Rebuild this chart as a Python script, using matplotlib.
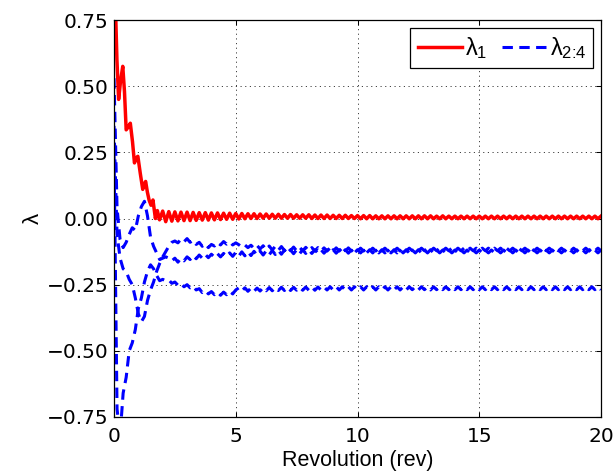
import numpy as np
import matplotlib
matplotlib.use("Agg")
import matplotlib.pyplot as plt

plt.rcParams['font.family'] = ['Liberation Sans', 'DejaVu Sans']
plt.rcParams['mathtext.fontset'] = 'custom'
plt.rcParams['mathtext.rm'] = 'Liberation Sans'
plt.rcParams['mathtext.it'] = 'Liberation Sans'
plt.rcParams['mathtext.bf'] = 'Liberation Sans:bold'

# ---------------- data ----------------
# lambda_1, early transient (irregular sampling, rev)
red_early_rev = [0.0, 0.06, 0.12, 0.19, 0.27, 0.36, 0.43, 0.50, 0.58, 0.67, 0.76, 0.84,
                 0.92, 0.98, 1.08, 1.18, 1.24, 1.30, 1.37, 1.44, 1.52, 1.60, 1.70, 1.78, 1.87]
red_early_val = [0.95, 0.80, 0.60, 0.45, 0.52, 0.575, 0.48, 0.335, 0.345, 0.36, 0.29, 0.21,
                 0.23, 0.235, 0.17, 0.11, 0.13, 0.14, 0.10, 0.07, 0.05, 0.07, 0.0, 0.03, -0.005]
# lambda_1 from 2 to 20 rev, every 0.125 rev
red_late_val = [
    0.028, -0.012, 0.026, -0.010, 0.025, -0.009, 0.024, -0.008,
    0.024, -0.008, 0.023, -0.007, 0.022, -0.006, 0.022, -0.006,
    0.021, -0.005, 0.021, -0.004, 0.020, -0.003, 0.020, -0.003,
    0.019, -0.002, 0.019, -0.001, 0.018, 0.000, 0.018, 0.000,
    0.017, 0.001, 0.017, 0.001, 0.016, 0.001, 0.016, 0.001,
    0.015, 0.001, 0.015, 0.001, 0.014, 0.001, 0.014, 0.001,
    0.014, 0.000, 0.013, 0.000, 0.013, 0.000, 0.013, 0.000,
    0.012, 0.000, 0.012, 0.000, 0.012, 0.000, 0.011, 0.000,
    0.011, -0.001, 0.011, -0.001, 0.011, -0.001, 0.010, -0.001,
    0.010, -0.001, 0.010, -0.001, 0.010, -0.001, 0.010, -0.001,
    0.010, -0.001, 0.010, -0.001, 0.010, -0.001, 0.010, -0.001,
    0.010, -0.001, 0.009, -0.001, 0.010, -0.001, 0.009, -0.001,
    0.009, -0.001, 0.009, -0.001, 0.009, -0.001, 0.009, -0.001,
    0.009, -0.001, 0.009, -0.001, 0.009, -0.001, 0.009, -0.001,
    0.009, -0.001, 0.009, -0.001, 0.009, -0.001, 0.009, -0.001,
    0.009, -0.001, 0.009, -0.001, 0.009, -0.001, 0.009, -0.001,
    0.009, -0.001, 0.009, -0.001, 0.009, -0.001, 0.009, -0.001,
    0.009, -0.001, 0.009, -0.001, 0.009, -0.001, 0.009, -0.001,
    0.009]

# lambda_2..4 on a 0.125 rev grid from 0 to 20
blue_a_val = [0.53,
    0.04, -0.08, -0.11, -0.09, -0.06, -0.035, -0.045, 0.01,
    0.045, 0.065, 0.01, -0.07, -0.105, -0.13, -0.155, -0.15,
    -0.145, -0.15, -0.16, -0.15, -0.165, -0.15, -0.16, -0.145,
    -0.155, -0.14, -0.152, -0.138, -0.15, -0.136, -0.148, -0.135,
    -0.146, -0.133, -0.145, -0.132, -0.144, -0.130, -0.143, -0.128,
    -0.142, -0.126, -0.141, -0.125, -0.140, -0.124, -0.139, -0.123,
    -0.138, -0.122, -0.137, -0.121, -0.136, -0.120, -0.135, -0.119,
    -0.134, -0.119, -0.133, -0.118, -0.133, -0.118, -0.132, -0.118,
    -0.132, -0.118, -0.131, -0.118, -0.131, -0.118, -0.131, -0.118,
    -0.131, -0.118, -0.130, -0.118, -0.131, -0.118, -0.130, -0.118,
    -0.130, -0.118, -0.130, -0.118, -0.130, -0.118, -0.130, -0.118,
    -0.130, -0.118, -0.130, -0.118, -0.130, -0.118, -0.130, -0.118,
    -0.130, -0.119, -0.130, -0.118, -0.130, -0.119, -0.130, -0.118,
    -0.130, -0.119, -0.130, -0.119, -0.130, -0.119, -0.130, -0.119,
    -0.130, -0.119, -0.130, -0.119, -0.130, -0.119, -0.130, -0.119,
    -0.130, -0.119, -0.130, -0.119, -0.130, -0.119, -0.130, -0.119,
    -0.130, -0.119, -0.130, -0.119, -0.130, -0.119, -0.130, -0.119,
    -0.130, -0.119, -0.130, -0.119, -0.130, -0.119, -0.130, -0.119,
    -0.130, -0.119, -0.130, -0.119, -0.130, -0.119, -0.130, -0.119,
    -0.130, -0.119, -0.130, -0.119, -0.130, -0.119, -0.130, -0.119]
blue_b_val = [0.35,
    -0.06, -0.15, -0.19, -0.20, -0.23, -0.25, -0.30, -0.36,
    -0.39, -0.37, -0.31, -0.27, -0.24, -0.20, -0.17, -0.145,
    -0.125, -0.105, -0.09, -0.085, -0.092, -0.078, -0.088, -0.076,
    -0.090, -0.082, -0.098, -0.090, -0.105, -0.095, -0.110, -0.098,
    -0.104, -0.090, -0.100, -0.087, -0.097, -0.088, -0.100, -0.092,
    -0.099, -0.108, -0.100, -0.110, -0.101, -0.113, -0.102, -0.115,
    -0.103, -0.118, -0.104, -0.119, -0.105, -0.120, -0.106, -0.121,
    -0.107, -0.121, -0.108, -0.122, -0.109, -0.122, -0.109, -0.123,
    -0.110, -0.123, -0.110, -0.123, -0.111, -0.123, -0.111, -0.123,
    -0.111, -0.123, -0.111, -0.123, -0.111, -0.123, -0.112, -0.123,
    -0.112, -0.123, -0.112, -0.123, -0.112, -0.123, -0.112, -0.123,
    -0.112, -0.123, -0.112, -0.123, -0.112, -0.123, -0.112, -0.123,
    -0.112, -0.122, -0.112, -0.123, -0.112, -0.122, -0.112, -0.123,
    -0.112, -0.122, -0.112, -0.122, -0.112, -0.122, -0.112, -0.122,
    -0.112, -0.122, -0.112, -0.122, -0.112, -0.122, -0.112, -0.122,
    -0.112, -0.122, -0.112, -0.122, -0.112, -0.122, -0.112, -0.122,
    -0.112, -0.122, -0.112, -0.122, -0.112, -0.122, -0.112, -0.122,
    -0.112, -0.122, -0.112, -0.122, -0.112, -0.122, -0.112, -0.122,
    -0.112, -0.122, -0.112, -0.122, -0.112, -0.122, -0.112, -0.122,
    -0.112, -0.122, -0.112, -0.122, -0.112, -0.122, -0.112, -0.122]
blue_c_val = [0.25,
    -0.72, -0.82, -0.66, -0.60, -0.50, -0.47, -0.42, -0.34,
    -0.30, -0.24, -0.20, -0.175, -0.19, -0.215, -0.235, -0.23,
    -0.235, -0.232, -0.245, -0.240, -0.252, -0.245, -0.258, -0.250,
    -0.262, -0.255, -0.270, -0.265, -0.280, -0.272, -0.285, -0.276,
    -0.288, -0.278, -0.290, -0.278, -0.288, -0.275, -0.285, -0.270,
    -0.262, -0.274, -0.262, -0.275, -0.263, -0.275, -0.263, -0.274,
    -0.261, -0.273, -0.261, -0.273, -0.261, -0.272, -0.260, -0.272,
    -0.260, -0.272, -0.260, -0.271, -0.260, -0.271, -0.259, -0.271,
    -0.259, -0.271, -0.259, -0.270, -0.259, -0.270, -0.258, -0.270,
    -0.258, -0.270, -0.258, -0.270, -0.258, -0.270, -0.258, -0.270,
    -0.258, -0.270, -0.258, -0.270, -0.258, -0.270, -0.258, -0.270,
    -0.258, -0.270, -0.258, -0.270, -0.258, -0.270, -0.258, -0.270,
    -0.258, -0.269, -0.258, -0.270, -0.258, -0.269, -0.258, -0.270,
    -0.258, -0.269, -0.258, -0.269, -0.258, -0.269, -0.258, -0.269,
    -0.258, -0.269, -0.258, -0.269, -0.258, -0.269, -0.258, -0.269,
    -0.258, -0.269, -0.258, -0.269, -0.258, -0.269, -0.258, -0.269,
    -0.258, -0.269, -0.258, -0.269, -0.258, -0.269, -0.258, -0.269,
    -0.258, -0.269, -0.258, -0.269, -0.258, -0.269, -0.258, -0.269,
    -0.258, -0.269, -0.258, -0.269, -0.258, -0.269, -0.258, -0.269,
    -0.258, -0.269, -0.258, -0.269, -0.258, -0.269, -0.258, -0.269]

x_ticks = [0, 5, 10, 15, 20]
y_ticks = [-0.75, -0.50, -0.25, 0.00, 0.25, 0.50, 0.75]
y_tick_labels = ['\u22120.75', '\u22120.50', '\u22120.25', '0.00', '0.25', '0.50', '0.75']
legend_labels = [r'$\lambda_{1}$', r'$\lambda_{\text{2:4}}$']
x_label = 'Revolution (rev)'
y_label = r'$\lambda$'

# grids
rev_grid = np.arange(len(blue_a_val)) * 0.125
red_late_rev = 2.0 + np.arange(len(red_late_val)) * 0.125
red_rev = np.concatenate([red_early_rev, red_late_rev])
red_val = np.concatenate([red_early_val, red_late_val])

# ---------------- figure ----------------
W, H = 616, 476
fig = plt.figure(figsize=(W / 100, H / 100), dpi=100)
ax = fig.add_axes([114 / W, 1 - 417 / H, (601 - 114) / W, (417 - 20) / H])

ax.plot(red_rev, red_val, color=(1, 0, 0), lw=2.5, label=legend_labels[0],
        solid_joinstyle='round')
dash = (0, (3.4, 2.1))
for i, vals in enumerate([blue_a_val, blue_b_val, blue_c_val]):
    ax.plot(rev_grid, vals, color=(0, 0, 1), lw=2.2, ls=dash,
            label=legend_labels[1] if i == 0 else None)

ax.set_xlim(0, 20)
ax.set_ylim(-0.75, 0.75)
ax.set_xticks(x_ticks)
ax.set_yticks(y_ticks)
ax.set_yticklabels(y_tick_labels)
ax.grid(True, color=(0.25, 0.25, 0.25), lw=0.7, ls=(0, (1.2, 3.6)))
ax.tick_params(direction='in', top=True, right=True, length=3.6, width=0.75,
               labelsize=14.5, colors='k')
ax.tick_params(axis='x', pad=7)
ax.tick_params(axis='y', pad=4)
for lab in ax.get_xticklabels() + ax.get_yticklabels():
    lab.set_family(['DejaVu Sans'])
for s in ax.spines.values():
    s.set_linewidth(0.9)
    s.set_color('k')

ax.set_xlabel(x_label, fontsize=15.5, labelpad=3)
ax.set_ylabel(y_label, fontsize=16, labelpad=2)

leg = ax.legend(loc='upper right', ncol=2, fontsize=17, fancybox=False,
                framealpha=1, edgecolor='k', handlelength=1.9, handletextpad=0.1,
                columnspacing=0.65, borderpad=0.3, borderaxespad=0.34)
leg.get_frame().set_linewidth(0.9)

fig.savefig('out.png', dpi=100)
